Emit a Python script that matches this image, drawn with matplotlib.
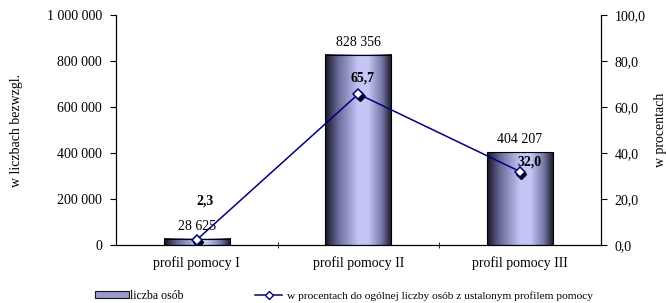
import numpy as np
import matplotlib
matplotlib.use("Agg")
import matplotlib.pyplot as plt
from matplotlib.colors import LinearSegmentedColormap
from matplotlib.patches import Patch
from matplotlib.lines import Line2D
import matplotlib.transforms as mtransforms

plt.rcParams['font.family'] = ['Liberation Serif', 'DejaVu Serif']

# data
categories = ['profil pomocy I', 'profil pomocy II', 'profil pomocy III']
liczba = [28625, 828356, 404207]
procent = [2.3, 65.7, 32.0]
liczba_labels = ['28 625', '828 356', '404 207']
procent_labels = ['2,3', '65,7', '32,0']
left_ticks = [0, 200000, 400000, 600000, 800000, 1000000]
left_tick_labels = ['0', '200 000', '400 000', '600 000', '800 000', '1 000 000']
right_ticks = [0, 20, 40, 60, 80, 100]
right_tick_labels = ['0,0', '20,0', '40,0', '60,0', '80,0', '100,0']

# bar shading: dark edges, light lavender middle
grad = LinearSegmentedColormap.from_list('bar', [
    (0.0, '#15151f'), (0.2, '#6c6c9c'), (0.5, '#c6c6f6'),
    (0.65, '#c6c6f6'), (0.85, '#7878a8'), (1.0, '#15151f')])

fs = 10
fig = plt.figure(figsize=(6.66, 3.03), dpi=100)
ax = fig.add_axes([0.174, 0.191, 0.728, 0.759])
x = np.arange(len(categories))
w = 0.41

bars = ax.bar(x, liczba, width=w, facecolor='none', edgecolor='black', linewidth=0.8, zorder=3)
g = np.linspace(0, 1, 256).reshape(1, -1)
for b in bars:
    ax.imshow(g, cmap=grad, aspect='auto', zorder=2,
              extent=[b.get_x(), b.get_x() + b.get_width(), 0, b.get_height()])
ax.set_xlim(-0.5, 2.5)
ax.set_ylim(0, 1000000)

for xi, v, lab in zip(x, liczba, liczba_labels):
    ax.text(xi, v + 25000, lab, ha='center', va='bottom', fontsize=fs)

ax.set_yticks(left_ticks)
ax.set_yticklabels(left_tick_labels, fontsize=fs)
ax.set_xticks(x)
ax.set_xticklabels(categories, fontsize=fs)
ax.set_xticks([0.5, 1.5], minor=True)
ax.tick_params(axis='x', which='major', length=0, pad=8)
ax.tick_params(axis='x', which='minor', length=4, direction='inout')
ax.tick_params(axis='y', length=4, direction='out', pad=6)
ax.spines['top'].set_visible(False)
ax.set_ylabel('w liczbach bezwzgl.', fontsize=fs, labelpad=17)

ax2 = ax.twinx()
ax2.set_ylim(0, 100)
ax2.set_yticks(right_ticks)
ax2.set_yticklabels(right_tick_labels, fontsize=fs)
ax2.tick_params(axis='y', length=4, direction='out', pad=6)
ax2.spines['top'].set_visible(False)
ax2.set_ylabel('w procentach', fontsize=fs, labelpad=6, rotation=90)

# shadow under markers
shadow = mtransforms.offset_copy(ax2.transData, fig=fig, x=1.5, y=-2, units='dots')
ax2.plot(x, procent, linestyle='none', marker='D', markersize=5, color='black',
         transform=shadow, zorder=4)
ax2.plot(x, procent, color='#000080', linewidth=1.1, marker='D', markersize=5,
         markerfacecolor='white', markeredgecolor='#000080', markeredgewidth=1.1, zorder=5)

offsets = [(6, 23), (3, 7), (7, 2)]
for xi, v, lab, off in zip(x, procent, procent_labels, offsets):
    ax2.annotate(lab, (xi, v), xytext=off, textcoords='offset points',
                 ha='center', va='bottom', fontsize=fs, fontweight='bold')

h1 = Patch(facecolor='#9a9acc', edgecolor='#15151f', linewidth=0.8)
h2 = Line2D([0], [0], color='#000080', linewidth=1.1, marker='D', markersize=4,
            markerfacecolor='white', markeredgecolor='#000080')
fig.legend([h1], ['liczba osób'], loc='center left', bbox_to_anchor=(95 / 666, 0.023),
           frameon=False, fontsize=8.5, handlelength=2.9, handleheight=0.5,
           handletextpad=0.1, borderpad=0, borderaxespad=0)
fig.legend([h2], ['w procentach do ogólnej liczby osób z ustalonym profilem pomocy'],
           loc='center left', bbox_to_anchor=(255 / 666, 0.023), frameon=False, fontsize=8.2,
           handlelength=2.4, handletextpad=0.4, borderpad=0, borderaxespad=0)

fig.savefig('out.png', dpi=100)
